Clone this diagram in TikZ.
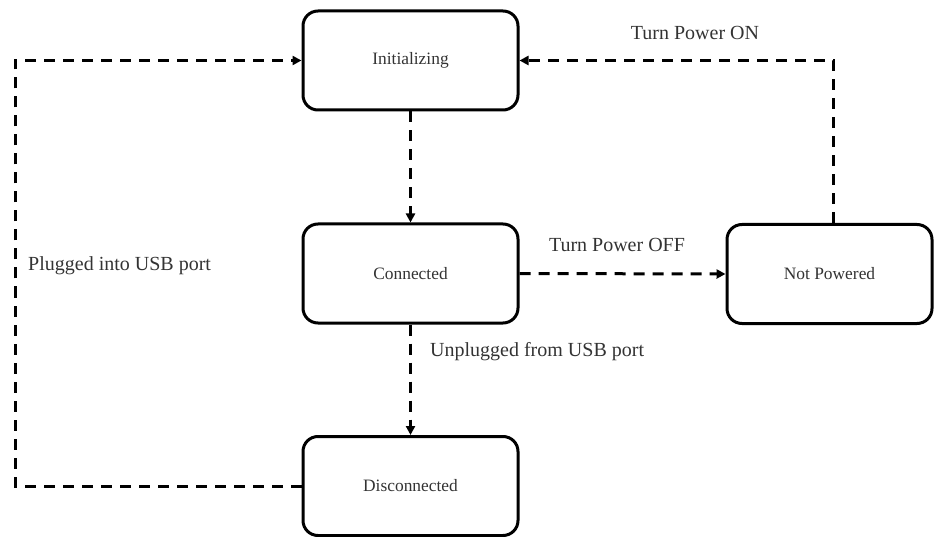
\documentclass[tikz,border=0pt]{standalone}
\usepackage{fontspec}
\setmainfont{Liberation Serif}
\usetikzlibrary{arrows.meta}
\begin{document}
\begin{tikzpicture}[x=1pt,y=-1pt,
  state/.style={draw=black, line width=3pt, rounded corners=15pt,
    minimum height=99pt, inner sep=0pt, text=black!80,
    font=\fontsize{17.4}{20}\selectfont},
  trans/.style={draw=black, line width=3pt, dash pattern=on 11pt off 8pt,
    -{Triangle[length=9pt,width=9pt]}},
  edgelabel/.style={inner sep=0pt, text=black!80,
    font=\fontsize{20}{24}\selectfont}]
  \useasboundingbox (0,0) rectangle (934,537);

  % states
  \node[state, minimum width=215pt] (init) at (410.5,60.5) {Initializing};
  \node[state, minimum width=215pt] (conn) at (410.5,273.5) {Connected};
  \node[state, minimum width=205pt] (np)   at (829.5,274)  {Not Powered};
  \node[state, minimum width=215pt] (disc) at (410.5,486)  {Disconnected};

  % bend points of the two outer loops
  \coordinate (lb) at (15,486);
  \coordinate (lt) at (15,60.5);
  \coordinate (rt) at (833,60.5);

  % transitions
  \draw[trans] (init.south) -- (conn.north);
  \draw[trans] (conn.east) -- (np.west);
  \draw[trans] (conn.south) -- (disc.north);
  \draw[trans] (disc.west) -- (lb) -- (lt) -- (init.west);
  \draw[trans] (np.north -| rt) -- (rt) -- (init.east);

  % transition labels
  \node[edgelabel] (lon)  at (695,33)  {Turn Power ON};
  \node[edgelabel] (loff) at (617,245) {Turn Power OFF};
  \node[edgelabel, anchor=west] (lun) at (430,352) {Unplugged from USB port};
  \node[edgelabel, anchor=west] (lpl) at (28,266)  {Plugged into USB port};
\end{tikzpicture}
\end{document}
